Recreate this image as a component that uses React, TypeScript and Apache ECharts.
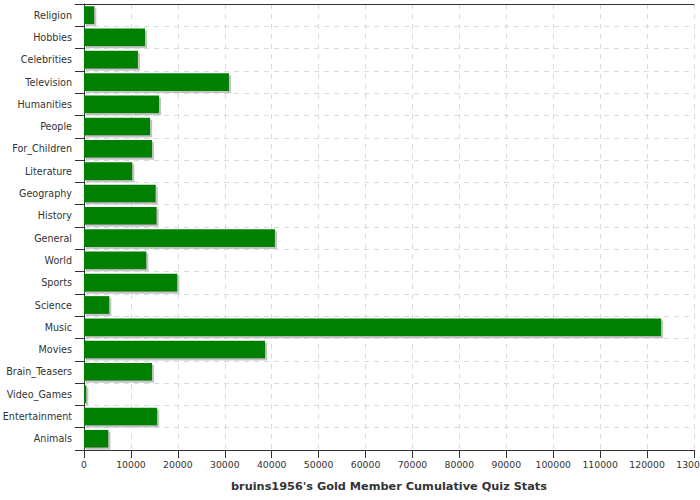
import React, { useEffect, useRef } from "react";
import * as echarts from "echarts";

const categories = [
  "Religion", "Hobbies", "Celebrities", "Television", "Humanities", "People",
  "For_Children", "Literature", "Geography", "History", "General", "World",
  "Sports", "Science", "Music", "Movies", "Brain_Teasers", "Video_Games",
  "Entertainment", "Animals",
];
const values = [
  2200, 13000, 11500, 30900, 16000, 14100,
  14500, 10300, 15300, 15500, 40700, 13300,
  19900, 5400, 123000, 38600, 14500, 500,
  15600, 5200,
];
const title = "bruins1956's Gold Member Cumulative Quiz Stats";

export default function App() {
  const ref = useRef<HTMLDivElement>(null);
  useEffect(() => {
    if (!ref.current) return;
    const chart = echarts.init(ref.current, undefined, { renderer: "svg" });
    const font = "DejaVu Sans";
    chart.setOption({
      animation: false,
      backgroundColor: "#fff",
      grid: { left: 84, right: 6, top: 4, bottom: 50, containLabel: false, outerBoundsMode: "none" },
      xAxis: [
        {
          type: "value",
          min: 0,
          max: 130000,
          interval: 10000,
          position: "bottom",
          name: title,
          nameLocation: "middle",
          nameGap: 31,
          nameTextStyle: { fontFamily: font, fontSize: 11.3, fontWeight: "bold", color: "#333" },
          axisLine: { show: true, lineStyle: { color: "#333", width: 1 } },
          axisTick: { show: true, length: 8, lineStyle: { color: "#333" } },
          axisLabel: {
            fontFamily: font, fontSize: 9.3, color: "#333", margin: 10,
            showMaxLabel: true, hideOverlap: false,
            formatter: (v: number) => String(v),
          },
          splitLine: { show: true, lineStyle: { color: "#d5dde2", type: [5, 5] } },
        },
        {
          type: "value",
          min: 0,
          max: 130000,
          interval: 10000,
          position: "top",
          axisLine: { show: true, lineStyle: { color: "#333", width: 1 } },
          axisTick: { show: false },
          axisLabel: { show: false },
          splitLine: { show: false },
        },
      ],
      yAxis: {
        type: "category",
        data: categories,
        inverse: true,
        axisLine: { show: true, lineStyle: { color: "#333", width: 1 } },
        axisTick: { show: true, length: 9, lineStyle: { color: "#333" } },
        axisLabel: { fontFamily: font, fontSize: 9.6, color: "#333", margin: 12, hideOverlap: false },
        splitLine: { show: true, lineStyle: { color: "#d5dde2", type: [5, 5] } },
      },
      series: [
        {
          type: "bar",
          data: values,
          xAxisIndex: 0,
          barWidth: "80%",
          itemStyle: {
            color: "#008000",
            shadowColor: "#c4c4c4",
            shadowOffsetX: 2,
            shadowOffsetY: 2,
            shadowBlur: 0.1,
          },
        },
      ],
    });
    return () => chart.dispose();
  }, []);
  return <div ref={ref} style={{ width: 700, height: 500, position: "absolute", left: 0, top: 0 }} />;
}
